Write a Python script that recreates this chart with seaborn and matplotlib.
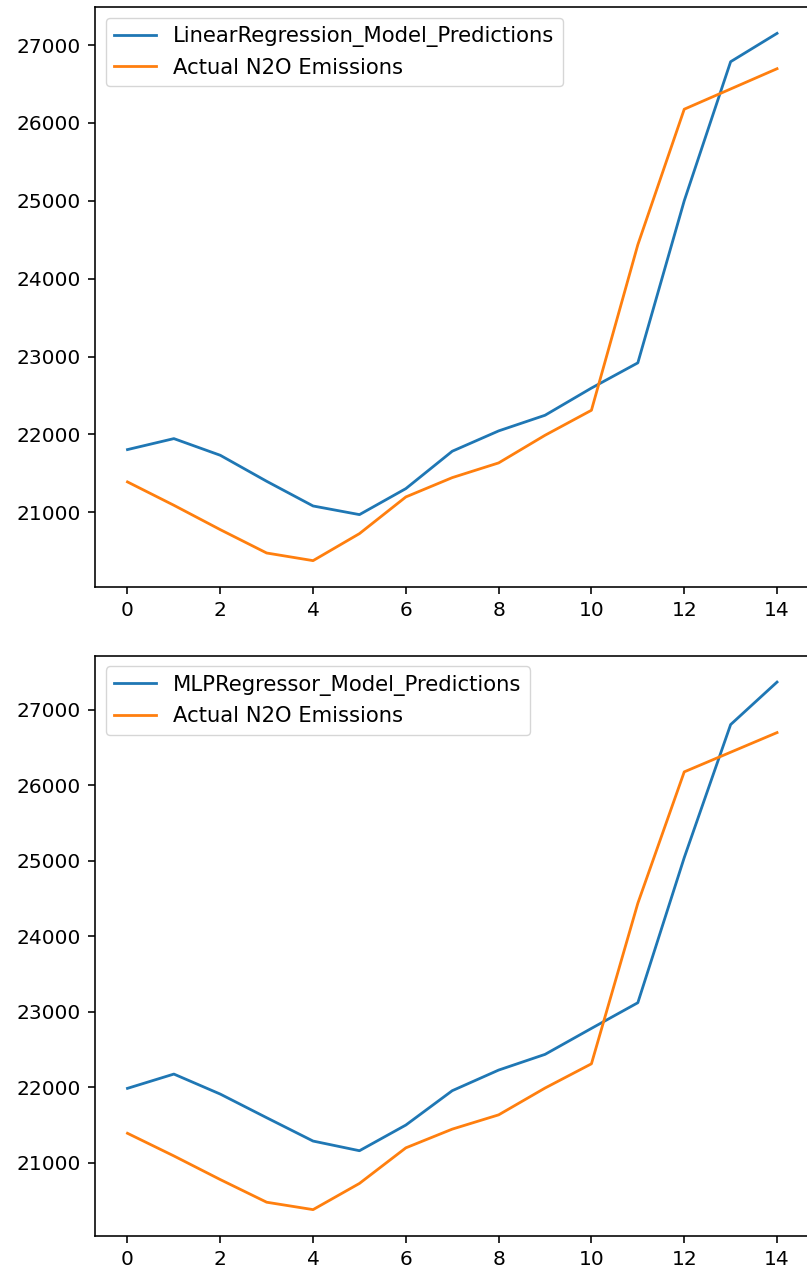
import numpy as np
import pandas as pd
import matplotlib
matplotlib.use("Agg")
import matplotlib.pyplot as plt
import seaborn as sns

# Data
index = list(range(15))
actual = [21390, 21090, 20777, 20477, 20379, 20726, 21197, 21445, 21634, 21989,
          22310, 24436, 26176, 26436, 26696]
linear_pred = [21805, 21946, 21732, 21398, 21081, 20970, 21304, 21784, 22045, 22246,
               22595, 22919, 25000, 26786, 27150]
mlp_pred = [21985, 22174, 21909, 21596, 21287, 21159, 21499, 21954, 22227, 22435,
            22779, 23119, 25040, 26802, 27365]

model_labels = ["LinearRegression_Model_Predictions", "MLPRegressor_Model_Predictions"]
actual_label = "Actual N2O Emissions"

S = 1.45  # scale relative to matplotlib defaults
plt.rcParams['font.family'] = ['DejaVu Sans']
plt.rcParams['font.size'] = 10 * S
plt.rcParams['axes.linewidth'] = 0.8 * S
plt.rcParams['xtick.major.size'] = 3.5 * S
plt.rcParams['ytick.major.size'] = 3.5 * S
plt.rcParams['xtick.major.width'] = 0.8 * S
plt.rcParams['ytick.major.width'] = 0.8 * S
plt.rcParams['xtick.major.pad'] = 3.5 * S
plt.rcParams['ytick.major.pad'] = 3.5 * S
plt.rcParams['legend.fontsize'] = 10.5 * S

W, H = 807, 1274
dpi = 100
fig = plt.figure(figsize=(W / dpi, H / dpi), dpi=dpi)

ax1 = fig.add_axes([95 / W, 1 - 587 / H, 714.5 / W, 580 / H])
ax2 = fig.add_axes([95 / W, 1 - 1236 / H, 714.5 / W, 580.3 / H])

palette = sns.color_palette("tab10")
for ax, pred, lab in [(ax1, linear_pred, model_labels[0]), (ax2, mlp_pred, model_labels[1])]:
    sns.lineplot(x=index, y=pred, ax=ax, color=palette[0], label=lab, linewidth=2.0)
    sns.lineplot(x=index, y=actual, ax=ax, color=palette[1], label=actual_label, linewidth=2.0)
    ax.set_xticks(range(0, 15, 2))
    ax.set_yticks(range(21000, 28000, 1000))
    ax.legend(loc="upper left")
    ax.set_xlabel("")
    ax.set_ylabel("")

fig.savefig("out.png", dpi=dpi)
